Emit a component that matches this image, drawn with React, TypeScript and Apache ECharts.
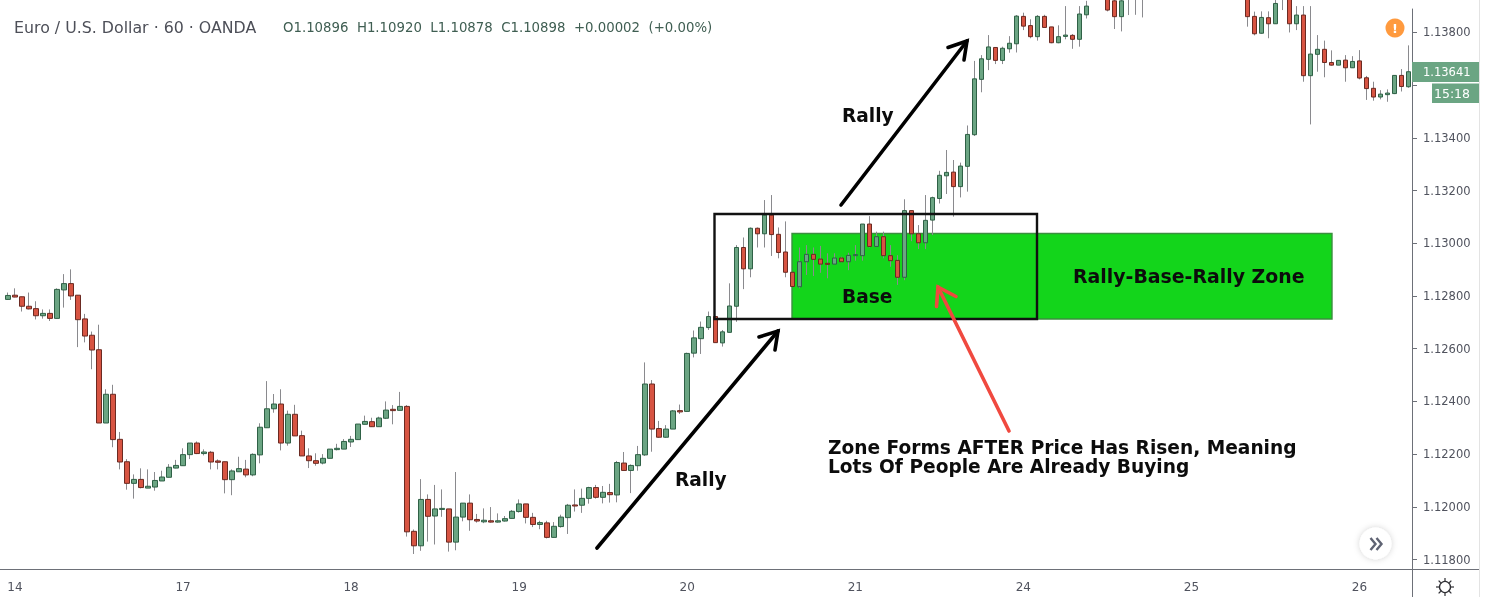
import React, { useEffect, useRef } from "react";
import * as echarts from "echarts";

// Every candle row is [open, close, low, high] in 0.00001 price points.
const day13: number[][] = [[112787,112802,112787,112813]];
const day14: number[][] = [
[112803,112796,112795,112829],[112797,112761,112741,112797],[112761,112751,112749,112813],[112752,112725,112711,112780],
[112725,112734,112714,112749],[112734,112715,112705,112749],[112715,112825,112715,112829],[112823,112847,112756,112883],
[112847,112800,112785,112901],[112803,112710,112606,112803],[112713,112648,112624,112732],[112651,112595,112522,112665],
[112596,112318,112318,112691],[112318,112427,112318,112446],[112427,112255,112226,112463],[112256,112170,112142,112284],
[112171,112089,112065,112181],[112089,112104,112031,112123],[112104,112073,112070,112146],[112071,112078,112071,112142],
[112075,112100,112061,112132],[112098,112113,112098,112137],[112112,112150,112112,112162],[112147,112157,112146,112178]];
const day17: number[][] = [
[112156,112198,112156,112222],[112198,112242,112181,112242],[112242,112202,112200,112248],[112202,112208,112195,112218],
[112207,112170,112142,112212],[112174,112169,112142,112180],[112171,112103,112051,112171],[112103,112136,112044,112142],
[112133,112145,112133,112190],[112143,112121,112112,112178],[112121,112199,112116,112203],[112197,112302,112165,112317],
[112300,112372,112300,112477],[112372,112390,112357,112428],[112390,112242,112214,112446],[112242,112351,112232,112365],
[112351,112269,112269,112387],[112270,112193,112193,112289],[112193,112175,112147,112222],[112175,112165,112156,112203],
[112166,112184,112161,112200],[112184,112219,112184,112219],[112217,112222,112214,112239],[112219,112248,112219,112257]];
const day18: number[][] = [
[112246,112256,112227,112269],[112255,112314,112255,112314],[112313,112324,112313,112346],[112323,112304,112303,112338],
[112304,112337,112304,112342],[112336,112367,112333,112400],[112370,112365,112313,112386],[112366,112381,112366,112436],
[112381,111905,111887,112386],[111907,111852,111821,111914],[111852,112028,111833,112105],[112028,111964,111868,112047],
[111965,111992,111857,112083],[111990,111994,111962,112066],[111992,111866,111830,111992],[111866,111961,111835,112132],
[111961,112014,111945,112014],[112014,111951,111909,112047],[111952,111946,111940,111973],[111943,111949,111938,111994],
[111947,111942,111940,111999],[111942,111947,111940,111975],[111946,111955,111944,111965],[111956,111983,111955,111988]];
const day19: number[][] = [
[111982,112011,111978,112028],[112011,111960,111937,112011],[111960,111933,111923,111977],[111933,111940,111915,111947],
[111939,111884,111880,111947],[111884,111926,111883,111942],[111925,111961,111921,111970],[111959,112006,111897,112011],
[112007,112003,111982,112066],[112006,112032,111977,112069],[112032,112073,112012,112076],[112073,112036,112031,112083],
[112036,112055,112013,112079],[112054,112046,112016,112087],[112045,112168,112017,112174],[112166,112138,112138,112208],
[112138,112157,112052,112161],[112156,112198,112137,112231],[112197,112466,112193,112548],[112466,112295,112209,112481],
[112297,112264,112262,112326],[112264,112295,112262,112310],[112295,112364,112295,112367],[112365,112360,112352,112388]];
const day20: number[][] = [
[112362,112582,112362,112585],[112583,112641,112567,112669],[112638,112681,112580,112703],[112680,112722,112671,112741],
[112722,112623,112623,112722],[112622,112664,112608,112671],[112662,112762,112662,112848],[112761,112984,112702,112993],
[112984,112903,112826,113022],[112903,113057,112871,113060],[113057,113036,112984,113060],[113036,113107,112984,113164],
[113107,113033,112952,113183],[113034,112965,112943,113060],[112967,112890,112871,113083],[112890,112836,112836,112890],
[112835,112930,112829,112984],[112930,112958,112880,112993],[112958,112939,112876,112984],[112940,112921,112888,112990],
[112924,112920,112867,112962],[112921,112944,112921,112962],[112944,112930,112928,112949],[112930,112954,112898,112964]];
const day21: number[][] = [
[112953,112957,112934,112993],[112953,113073,112934,113073],[113073,112988,112984,113103],[112988,113025,112987,113044],
[113025,112953,112943,113044],[112953,112934,112911,112993],[112935,112871,112842,112955],[112871,113124,112860,113167],
[113124,113036,113008,113124],[113036,113002,112978,113069],[113002,113087,112978,113183],[113088,113173,113031,113177],
[113170,113258,113151,113275],[113256,113269,113187,113354],[113270,113215,113101,113316],[113215,113293,113174,113306],
[113292,113413,113196,113447],[113412,113624,113407,113692],[113622,113700,113573,113714],[113698,113745,113657,113790],
[113743,113694,113680,113743],[113694,113740,113680,113746],[113738,113759,113723,113786],[113757,113862,113724,113866]];
const day24: number[][] = [
[113861,113824,113809,113875],[113826,113784,113778,113850],[113784,113861,113769,113866],[113861,113819,113818,113867],
[113821,113761,113759,113821],[113761,113784,113759,113827],[113785,113790,113774,113900],[113789,113774,113738,113794],
[113774,113870,113746,113900],[113867,113900,113853,113920],[113900,113930,113895,113950],[113930,113910,113895,113960],
[113950,113885,113880,113960],[113920,113860,113813,113960],[113860,113920,113804,113950],[113900,113940,113866,113960],
[113940,113910,113867,113970],[113910,113945,113857,113980],[113945,113980,113920,114000],[113980,113950,113930,114010],
[113950,114000,113940,114020],[114000,114030,113980,114060],[114030,113990,113970,114050],[113990,114020,113960,114040]];
const day25: number[][] = [
[114020,113990,113960,114040],[113990,113960,113930,114010],[113960,113995,113940,114020],[113995,114010,113950,114030],
[114010,113970,113930,114030],[113970,113940,113910,113990],[113940,113965,113905,113985],[113965,113930,113900,113980],
[113930,113860,113822,113960],[113861,113795,113789,113879],[113797,113857,113795,113880],[113856,113833,113778,113880],
[113833,113910,113833,113950],[113900,113940,113885,113960],[113930,113833,113800,113950],[113833,113866,113809,113900],
[113866,113636,113613,113900],[113636,113718,113451,113900],[113717,113736,113651,113790],[113736,113686,113630,113769],
[113686,113676,113674,113732],[113676,113694,113676,113694],[113695,113666,113613,113714],[113666,113690,113665,113710]];
const day26: number[][] = [
[113692,113627,113622,113733],[113628,113587,113544,113635],[113588,113555,113541,113613],[113555,113566,113546,113581],
[113564,113570,113537,113584],[113568,113637,113566,113637],[113637,113595,113576,113661],[113594,113651,113590,113751]];

const dayLabels = ["14", "17", "18", "19", "20", "21", "24", "25", "26"];
const priceTicks = [1.118, 1.12, 1.122, 1.124, 1.126, 1.128, 1.13, 1.132, 1.134, 1.136, 1.138];
const priceLabels = [1.118, 1.12, 1.122, 1.124, 1.126, 1.128, 1.13, 1.132, 1.134, 1.138];

const titleText = "Euro / U.S. Dollar · 60 · OANDA";
const ohlcText = "O1.10896  H1.10920  L1.10878  C1.10898  +0.00002  (+0.00%)";
const lastPriceText = "1.13641";
const countdownText = "15:18";
const noteLines = ["Zone Forms AFTER Price Has Risen, Meaning", "Lots Of People Are Already Buying"];

const HOURS_PER_DAY = 24;
const candles = [...day13, ...day14, ...day17, ...day18, ...day19, ...day20, ...day21, ...day24, ...day25, ...day26];
const toPrice = (p: number) => p / 100000;
const categories = candles.map((_, i) =>
  (i - 1) % HOURS_PER_DAY === 0 ? dayLabels[(i - 1) / HOURS_PER_DAY] : `h${i}`
);
const isDayStart = (i: number) => (i - 1) % HOURS_PER_DAY === 0;
const fullData = candles.map((c) => c.map(toPrice));
const bodyData = candles.map(([o, c]) => [o, c, Math.min(o, c), Math.max(o, c)].map(toPrice));

const AXIS = "#6d7078";
const TICK_TEXT = "#50535e";
const ANNOT = "'DejaVu Sans', sans-serif";

const arrow = (pts: number[][], head: number[][], color: string) => [
  { type: "polyline", z: 6, shape: { points: pts }, style: { stroke: color, fill: "none", lineWidth: 3.6, lineCap: "round" } },
  { type: "polyline", z: 6, shape: { points: head }, style: { stroke: color, fill: "none", lineWidth: 3.6, lineCap: "round", lineJoin: "miter" } },
];

const label = (text: string, x: number, y: number, size = 18.6) => ({
  type: "text", z: 7, x, y,
  style: { text, fill: "#0c0c0c", font: `bold ${size}px ${ANNOT}`, textVerticalAlign: "middle", textBaseline: "middle" },
});

const sunRays = Array.from({ length: 8 }, (_, k) => {
  const a = (k * Math.PI) / 4;
  return {
    type: "line", z: 6,
    shape: { x1: 1445 + 6 * Math.cos(a), y1: 587 + 6 * Math.sin(a), x2: 1445 + 9 * Math.cos(a), y2: 587 + 9 * Math.sin(a) },
    style: { stroke: "#2e2e33", lineWidth: 1.2 },
  };
});

export default function App() {
  const ref = useRef<HTMLDivElement>(null);
  useEffect(() => {
    const chart = echarts.init(ref.current!, undefined, { renderer: "svg" });
    chart.setOption({
      animation: false,
      backgroundColor: "#ffffff",
      grid: { left: 4.5, top: 9, width: 1407.5, height: 560, containLabel: false },
      xAxis: {
        type: "category",
        data: categories,
        axisLine: { lineStyle: { color: AXIS, width: 1 } },
        axisTick: { length: 4, interval: (i: number) => isDayStart(i), alignWithLabel: true, lineStyle: { color: AXIS } },
        axisLabel: {
          interval: (i: number) => isDayStart(i),
          color: TICK_TEXT, fontFamily: "'DejaVu Sans', sans-serif", fontSize: 12, margin: 12,
          hideOverlap: false,
        },
        splitLine: { show: false },
      },
      yAxis: {
        type: "value",
        position: "right",
        min: 1.11764,
        max: 1.13889,
        scale: true,
        axisLine: { show: true, lineStyle: { color: AXIS, width: 1 } },
        axisTick: { show: true, length: 5, customValues: priceTicks, lineStyle: { color: AXIS } },
        axisLabel: {
          customValues: priceLabels,
          formatter: (v: number) => v.toFixed(5),
          color: TICK_TEXT, fontFamily: "'DejaVu Sans', sans-serif", fontSize: 11.5, margin: 11,
        },
        splitLine: { show: false },
      },
      series: [
        {
          name: "EUR/USD range",
          type: "candlestick",
          data: fullData,
          barWidth: 1,
          silent: true,
          z: 2,
          itemStyle: { color: "#8a8a8e", color0: "#8a8a8e", borderColor: "#8a8a8e", borderColor0: "#8a8a8e", borderWidth: 1 },
        },
        {
          name: "EUR/USD body",
          type: "candlestick",
          data: bodyData,
          barWidth: 5,
          silent: true,
          z: 3,
          itemStyle: { color: "#6ba583", color0: "#d75442", borderColor: "#2f6146", borderColor0: "#6b2a22", borderWidth: 1 },
        },
      ],
      graphic: { elements: [
        // extensions of the axes beyond the grid
        { type: "line", z: 1, shape: { x1: 0, y1: 569.5, x2: 1479, y2: 569.5 }, style: { stroke: AXIS, lineWidth: 1 } },
        { type: "line", z: 1, shape: { x1: 1412.5, y1: 569, x2: 1412.5, y2: 597 }, style: { stroke: AXIS, lineWidth: 1 } },
        { type: "line", z: 1, shape: { x1: 1479.5, y1: 0, x2: 1479.5, y2: 597 }, style: { stroke: "#e3e3e3", lineWidth: 1 } },
        // demand zone, under the candles
        { type: "rect", z: 1, shape: { x: 792, y: 233.5, width: 540, height: 85.5 }, style: { fill: "#13d51b", stroke: "#3b8f3f", lineWidth: 1.4 } },
        // base box, over the candles
        { type: "rect", z: 6, shape: { x: 714.5, y: 214, width: 322.5, height: 105 }, style: { fill: "none", stroke: "#111111", lineWidth: 2.4 } },
        ...arrow([[597, 548], [778, 331]], [[759, 337], [778, 331], [775, 350]], "#000000"),
        ...arrow([[841, 205], [967, 41]], [[948, 47.5], [967, 41], [964, 60]], "#000000"),
        ...arrow([[1009, 431], [938, 287]], [[936.5, 306.5], [938, 287], [956, 296.5]], "#f0493f"),
        label("Rally", 842, 115),
        label("Rally", 675, 479),
        label("Base", 842, 296.5),
        label("Rally-Base-Rally Zone", 1073, 275.5, 18.9),
        label(noteLines[0], 828, 447),
        label(noteLines[1], 828, 466),
        { type: "text", z: 7, x: 14, y: 27, style: { text: titleText, fill: "#4d4f58", font: "15.8px 'DejaVu Sans', sans-serif", textBaseline: "middle", textVerticalAlign: "middle" } },
        { type: "text", z: 7, x: 283, y: 27, style: { text: ohlcText, fill: "#3f5e52", font: "13.3px 'DejaVu Sans', sans-serif", textBaseline: "middle", textVerticalAlign: "middle" } },
        // last price tags
        { type: "rect", z: 8, shape: { x: 1412, y: 62, width: 67, height: 20 }, style: { fill: "#6ba583" } },
        { type: "rect", z: 8, shape: { x: 1432, y: 83.5, width: 47, height: 19.5 }, style: { fill: "#6ba583" } },
        { type: "text", z: 9, x: 1423, y: 72, style: { text: lastPriceText, fill: "#ffffff", font: "11.5px 'DejaVu Sans', sans-serif", textBaseline: "middle", textVerticalAlign: "middle" } },
        { type: "text", z: 9, x: 1434, y: 93, style: { text: countdownText, fill: "#ffffff", font: "12.5px 'DejaVu Sans', sans-serif", textBaseline: "middle", textVerticalAlign: "middle" } },
        // alert badge
        { type: "circle", z: 8, shape: { cx: 1395, cy: 28, r: 9.5 }, style: { fill: "#ff9a3e" } },
        { type: "text", z: 9, x: 1395, y: 28, style: { text: "!", fill: "#ffffff", font: "bold 13px 'DejaVu Sans', sans-serif", textAlign: "center", align: "center", textBaseline: "middle", textVerticalAlign: "middle" } },
        // scroll button
        { type: "circle", z: 8, shape: { cx: 1375.5, cy: 543.5, r: 16 }, style: { fill: "#ffffff", shadowBlur: 6, shadowColor: "rgba(0,0,0,0.18)" } },
        { type: "polyline", z: 9, shape: { points: [[1370.5, 538], [1375.5, 544], [1370.5, 550]] }, style: { stroke: "#5f6373", fill: "none", lineWidth: 2.4 } },
        { type: "polyline", z: 9, shape: { points: [[1376.5, 538], [1381.5, 544], [1376.5, 550]] }, style: { stroke: "#5f6373", fill: "none", lineWidth: 2.4 } },
        // settings icon
        { type: "circle", z: 6, shape: { cx: 1445, cy: 587, r: 5.5 }, style: { fill: "#ffffff", stroke: "#2e2e33", lineWidth: 1.3 } },
        ...sunRays,
      ] },
    });
    return () => chart.dispose();
  }, []);
  return (
    <div
      ref={ref}
      style={{ position: "absolute", left: 0, top: 0, width: 1485, height: 597, filter: "blur(0.55px)" }}
    />
  );
}
